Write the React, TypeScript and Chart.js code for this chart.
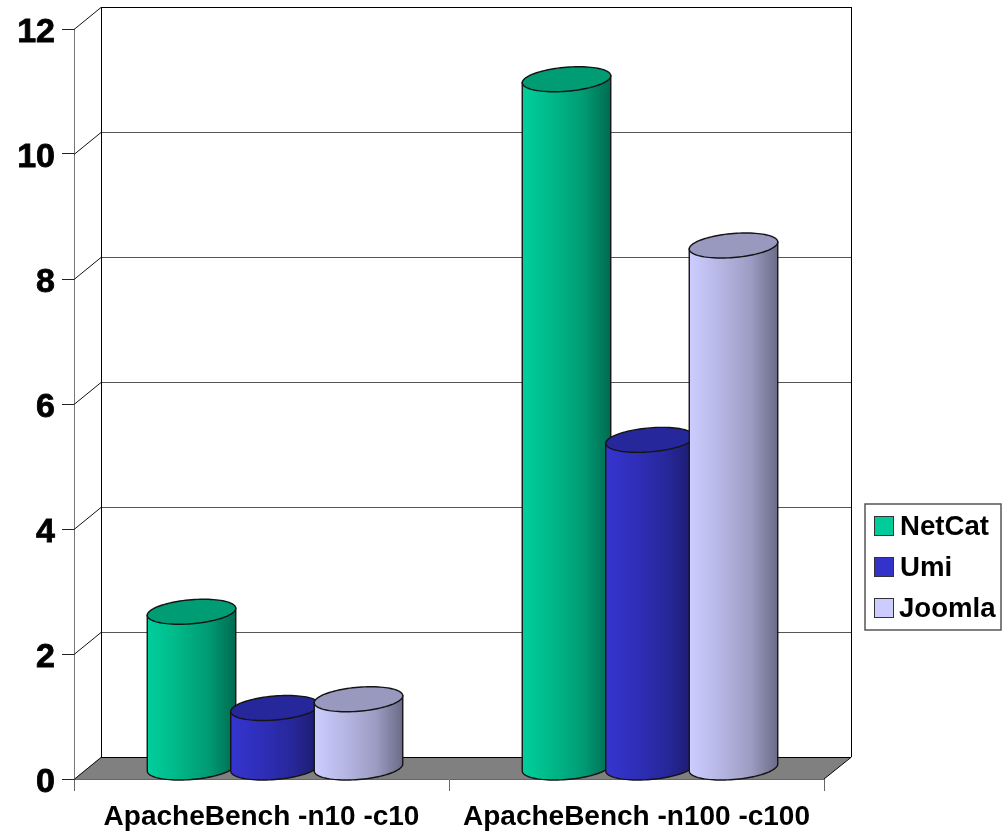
import React, { useEffect, useRef } from "react";
import { Chart, registerables } from "chart.js";

Chart.register(...registerables);

const categories = ["ApacheBench -n10 -c10", "ApacheBench -n100 -c100"];
const netCat = [2.5, 11.02];
const umi = [0.96, 5.25];
const joomla = [1.1, 8.36];
const seriesNames = ["NetCat", "Umi", "Joomla"];
const seriesValues = [netCat, umi, joomla];
const yTicks = [0, 2, 4, 6, 8, 10, 12];

const FONT = '"Liberation Sans", Arial, sans-serif';
const DX = 27;
const DY = 22;
const SHEAR = 3.5;
const BH = 12;

const palette = [
  { swatch: "#00CC99", stops: ["#00CF9C", "#00B788", "#009A73", "#006B50"], top: "#009C74" },
  { swatch: "#3333CC", stops: ["#3535D0", "#2E2EB8", "#27279A", "#1B1B6C"], top: "#27279C" },
  { swatch: "#CCCCFF", stops: ["#CCCCFF", "#B6B6E4", "#9C9CC2", "#6A6A88"], top: "#9999BF" },
];

function ellipsePt(cx: number, cy: number, a: number, t: number): [number, number] {
  const c = Math.cos(t);
  return [cx + a * c, cy - SHEAR * c + BH * Math.sin(t)];
}

const cylinders = {
  id: "cylinders",
  beforeDraw(chart: any) {
    // the reference's value labels sit a little below their tick marks
    chart.scales.y.getLabelItems().forEach((item: any) => {
      if (!item.shifted) {
        item.options.translation[1] += 4;
        item.shifted = true;
      }
    });
  },
  beforeDatasetsDraw(chart: any) {
    const { ctx, scales } = chart;
    const x = scales.x;
    const y = scales.y;
    const left = x.left;
    const right = x.right;
    const zero = y.getPixelForValue(0);
    const top = y.getPixelForValue(12);
    ctx.save();
    ctx.beginPath();
    ctx.moveTo(left, zero);
    ctx.lineTo(left + DX, zero - DY);
    ctx.lineTo(right + DX, zero - DY);
    ctx.lineTo(right, zero);
    ctx.closePath();
    ctx.fillStyle = "#808080";
    ctx.fill();
    ctx.lineWidth = 1;
    yTicks.forEach((v) => {
      const py = Math.round(y.getPixelForValue(v)) + 0.5;
      ctx.strokeStyle = "#111";
      ctx.beginPath();
      ctx.moveTo(left, py);
      ctx.lineTo(left + DX, py - DY);
      ctx.stroke();
      ctx.strokeStyle = v === 12 || v === 0 ? "#000" : "#555";
      ctx.beginPath();
      ctx.moveTo(left + DX, py - DY);
      ctx.lineTo(right + DX, py - DY);
      ctx.stroke();
    });
    ctx.strokeStyle = "#000";
    ctx.beginPath();
    ctx.moveTo(left + DX + 0.5, top - DY);
    ctx.lineTo(left + DX + 0.5, zero - DY);
    ctx.moveTo(right + DX + 0.5, top - DY);
    ctx.lineTo(right + DX + 0.5, zero - DY);
    ctx.lineTo(right, zero);
    ctx.stroke();
    ctx.restore();
  },
  afterDatasetsDraw(chart: any) {
    const { ctx } = chart;
    ctx.save();
    chart.data.datasets.forEach((_: any, i: number) => {
      const meta = chart.getDatasetMeta(i);
      const pal = palette[i];
      meta.data.forEach((bar: any) => {
        const a = (bar.width + 5) / 2;
        const cx = bar.x + DX / 2;
        const cyTop = bar.y - DY / 2;
        const cyBase = bar.base - DY / 2;
        const grad = ctx.createLinearGradient(cx - a, 0, cx + a, 0);
        grad.addColorStop(0, pal.stops[0]);
        grad.addColorStop(0.35, pal.stops[1]);
        grad.addColorStop(0.7, pal.stops[2]);
        grad.addColorStop(1, pal.stops[3]);
        ctx.lineWidth = 1.4;
        ctx.strokeStyle = "#141414";
        ctx.beginPath();
        const l = ellipsePt(cx, cyTop, a, Math.PI);
        ctx.moveTo(l[0], l[1]);
        const r = ellipsePt(cx, cyTop, a, 0);
        ctx.lineTo(r[0], r[1]);
        for (let k = 0; k <= 48; k++) {
          const p = ellipsePt(cx, cyBase, a, (Math.PI * k) / 48);
          ctx.lineTo(p[0], p[1]);
        }
        ctx.closePath();
        ctx.fillStyle = grad;
        ctx.fill();
        ctx.stroke();
        ctx.beginPath();
        for (let k = 0; k <= 96; k++) {
          const p = ellipsePt(cx, cyTop, a, (2 * Math.PI * k) / 96);
          if (k === 0) ctx.moveTo(p[0], p[1]);
          else ctx.lineTo(p[0], p[1]);
        }
        ctx.closePath();
        ctx.fillStyle = pal.top;
        ctx.fill();
        ctx.stroke();
      });
    });
    ctx.restore();
  },
  afterDraw(chart: any) {
    const { ctx } = chart;
    ctx.save();
    ctx.fillStyle = "#fff";
    ctx.fillRect(865, 504, 136, 126);
    ctx.strokeStyle = "#555";
    ctx.lineWidth = 1.5;
    ctx.strokeRect(865, 504, 136, 126);
    const swatchY = [517, 558, 599];
    const textX = [900, 900, 899];
    const baseY = [535, 576, 617];
    seriesNames.forEach((name, i) => {
      ctx.fillStyle = palette[i].swatch;
      ctx.fillRect(875, swatchY[i], 18, 18);
      ctx.strokeStyle = "#333";
      ctx.lineWidth = 1;
      ctx.strokeRect(874.5, swatchY[i] - 0.5, 19, 19);
      ctx.fillStyle = "#000";
      ctx.font = `bold 27.6px ${FONT}`;
      ctx.textAlign = "left";
      ctx.textBaseline = "alphabetic";
      ctx.fillText(name, textX[i], baseY[i]);
    });
    ctx.restore();
  },
};

export default function App() {
  const ref = useRef<HTMLCanvasElement | null>(null);
  useEffect(() => {
    document.body.style.margin = "0";
    const chart = new Chart(ref.current as HTMLCanvasElement, {
      type: "bar",
      data: {
        labels: categories,
        datasets: seriesNames.map((name, i) => ({
          label: name,
          data: seriesValues[i],
          backgroundColor: "rgba(0,0,0,0)",
          borderWidth: 0,
          barPercentage: 1,
          categoryPercentage: 0.668,
        })),
      },
      options: {
        responsive: false,
        animation: false,
        layout: { padding: { top: 29, right: 183, left: 0, bottom: 0 } },
        plugins: { legend: { display: false }, tooltip: { enabled: false }, title: { display: false } },
        scales: {
          x: {
            afterFit: (s: any) => {
              s.height = 57;
            },
            border: { color: "#666", width: 1 },
            grid: { drawOnChartArea: false, color: "#666", tickLength: 12, tickWidth: 1 },
            ticks: {
              color: "#000",
              font: { family: FONT, size: 28, weight: "bold" },
              maxRotation: 0,
              autoSkip: false,
              padding: 9,
            },
          },
          y: {
            min: 0,
            max: 12,
            afterFit: (s: any) => {
              s.width = 74;
            },
            border: { color: "#777", width: 1 },
            grid: { drawOnChartArea: false, color: "#222", tickLength: 12, tickWidth: 1 },
            ticks: {
              color: "#000",
              stepSize: 2,
              padding: 7,
              font: { family: FONT, size: 34, weight: "bold" },
              textStrokeColor: "#000",
              textStrokeWidth: 0.8,
            },
          },
        },
      },
      plugins: [cylinders],
    } as any);
    return () => chart.destroy();
  }, []);
  return <canvas ref={ref} width={1007} height={836} style={{ display: "block" }} />;
}
